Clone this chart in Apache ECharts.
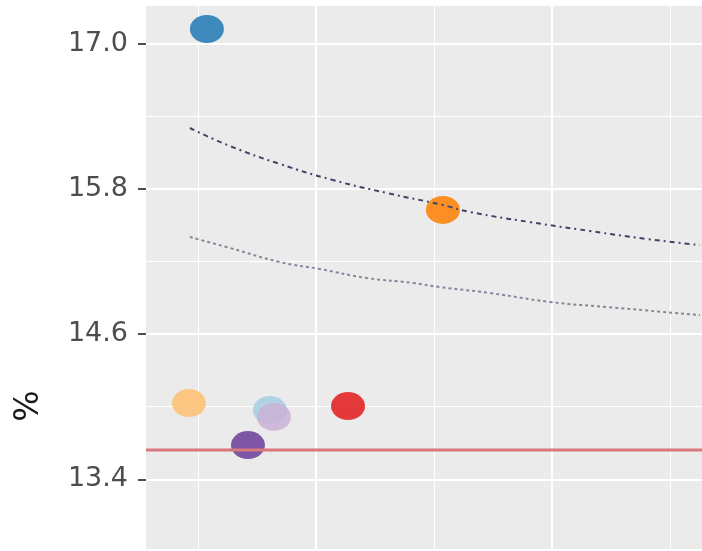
<!DOCTYPE html>
<html>
<head>
<meta charset="utf-8">
<script src="https://cdn.jsdelivr.net/npm/echarts@6/dist/echarts.min.js"></script>
<style>
  html, body { margin: 0; padding: 0; background: #ffffff; }
  #chart { width: 702px; height: 551px; }
</style>
</head>
<body>
<div id="chart"></div>
<script>
// Units plotted against their size (x) and rate in % (y)
const unitNames = ['U1', 'U2', 'U3', 'U4', 'U5', 'U6', 'U7'];
const unitSize  = [462, 538, 712, 805, 822, 1136, 1538];
const unitRate  = [14.03, 17.12, 13.683, 13.972, 13.915, 14.005, 15.625];

// Overall average
const meanRate = 13.642;

// Upper control limits (outer: dot-dash, inner: dotted)
const outerLimitSize = [466, 636, 847, 1072, 1301, 1538, 1653, 1907, 2161, 2403, 2627];
const outerLimitRate = [16.302, 16.153, 16.005, 15.872, 15.765, 15.666, 15.608, 15.525, 15.451, 15.385, 15.335];
const innerLimitSize = [466, 636, 847, 1017, 1216, 1411, 1525, 1737, 1992, 2233, 2627];
const innerLimitRate = [15.401, 15.311, 15.195, 15.137, 15.063, 15.022, 14.988, 14.939, 14.865, 14.823, 14.757];

// Axis breaks
const yTickLabels  = [13.4, 14.6, 15.8, 17.0];
const yMinorBreaks = [14.0, 15.2, 16.4];
const xMajorBreaks = [1000, 2000];
const xMinorBreaks = [500, 1500, 2500];

// Palette per unit
const unitColors = ['#FDBF6F', '#1F78B4', '#6A3D9A', '#A6CEE3', '#CAB2D6', '#E31A1C', '#FF7F00'];

const X_MIN = 280, X_MAX = 2636;
const Y_MIN = 12.8243, Y_MAX = 17.3098;

const majorGrid = { color: '#FFFFFF', width: 2, type: 'solid' };
const minorGrid = { color: '#FFFFFF', width: 1, type: 'solid' };

const gridLines = []
  .concat(yTickLabels.map(v => ({ yAxis: v, lineStyle: majorGrid })))
  .concat(yMinorBreaks.map(v => ({ yAxis: v, lineStyle: minorGrid })))
  .concat(xMajorBreaks.map(v => ({ xAxis: v, lineStyle: majorGrid })))
  .concat(xMinorBreaks.map(v => ({ xAxis: v, lineStyle: minorGrid })));

const zip = (xs, ys) => xs.map((x, i) => [x, ys[i]]);

const chart = echarts.init(document.getElementById('chart'), null, { renderer: 'canvas' });

chart.setOption({
  animation: false,
  backgroundColor: '#FFFFFF',
  grid: {
    left: 146, right: 0, top: 6, bottom: 2,
    show: true, backgroundColor: '#EBEBEB', borderWidth: 0
  },
  // y-axis title sits at the centre of the full panel, which runs below this view
  graphic: [{
    type: 'text',
    x: 29, y: 406,
    rotation: Math.PI / 2,
    style: {
      text: '%',
      fontSize: 33,
      fontFamily: 'DejaVu Sans',
      fill: '#1A1A1A',
      align: 'center',
      verticalAlign: 'middle'
    }
  }],
  xAxis: {
    type: 'value', min: X_MIN, max: X_MAX, show: false
  },
  yAxis: {
    type: 'value', min: Y_MIN, max: Y_MAX,
    axisLine: { show: false },
    axisTick: {
      show: true, length: 8, customValues: yTickLabels,
      lineStyle: { color: '#4D4D4D', width: 2 }
    },
    axisLabel: {
      customValues: yTickLabels,
      margin: 18,
      fontSize: 27,
      fontFamily: 'DejaVu Sans',
      color: '#4D4D4D',
      formatter: v => Number(v).toFixed(1)
    },
    splitLine: { show: false }
  },
  series: [
    {
      name: 'grid',
      type: 'line',
      z: 1,
      silent: true,
      data: [],
      markLine: {
        z: 1,
        silent: true,
        symbol: 'none',
        label: { show: false },
        animation: false,
        data: gridLines
      }
    },
    {
      name: 'units',
      type: 'scatter',
      z: 3,
      symbol: 'circle',
      symbolSize: [34, 28],
      data: unitSize.map((x, i) => ({
        name: unitNames[i],
        value: [x, unitRate[i]],
        itemStyle: { color: unitColors[i], opacity: 0.85 }
      }))
    },
    {
      name: 'average',
      type: 'line',
      z: 4,
      silent: true,
      symbol: 'none',
      data: [[X_MIN, meanRate], [X_MAX, meanRate]],
      lineStyle: { color: '#D9777A', width: 3 }
    },
    {
      name: 'outer limit',
      type: 'line',
      z: 4,
      silent: true,
      symbol: 'none',
      smooth: true,
      data: zip(outerLimitSize, outerLimitRate),
      lineStyle: { color: '#3E4668', width: 2, type: [5, 4, 2, 4] }
    },
    {
      name: 'inner limit',
      type: 'line',
      z: 4,
      silent: true,
      symbol: 'none',
      smooth: true,
      data: zip(innerLimitSize, innerLimitRate),
      lineStyle: { color: '#84889A', width: 2, type: [3, 3] }
    }
  ]
});
</script>
</body>
</html>
